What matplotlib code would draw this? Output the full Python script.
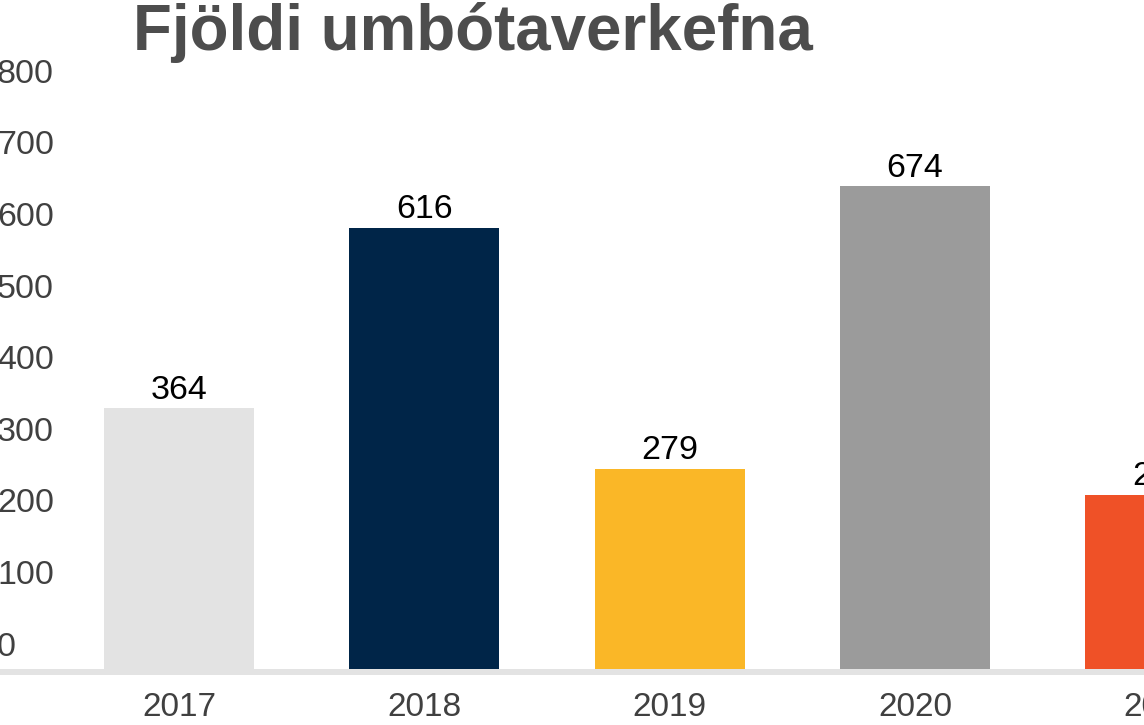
import matplotlib
matplotlib.use("Agg")
import matplotlib.pyplot as plt
from matplotlib.transforms import offset_copy

years = ["2017", "2018", "2019", "2020", "2021"]
counts = [364, 616, 279, 674, 243]
bar_colors = ["#e3e3e3", "#002548", "#fab727", "#9b9b9b", "#ef5127"]
y_ticks = [0, 100, 200, 300, 400, 500, 600, 700, 800]

W, H = 1144, 725
base_px = 669      # baseline, pixels from top
px_per_unit = 0.716
step_px = 245.3
first_px = 179
right_lim = 4.4    # axes run past the right edge of the picture (cropped look)

plt.rcParams['font.family'] = ['Liberation Sans', 'DejaVu Sans']

fig = plt.figure(figsize=(W / 100, H / 100), dpi=100)
left_lim = -first_px / step_px
ax_w = (right_lim - left_lim) * step_px / W
ax = fig.add_axes([0, (H - base_px) / H, ax_w, base_px / H])

x = list(range(len(years)))
bars = ax.bar(x, counts, width=0.612, color=bar_colors, zorder=3)
ax.bar_label(bars, labels=[str(c) for c in counts], padding=2,
             fontsize=24.5, color="black")

for s in ["top", "right", "left"]:
    ax.spines[s].set_visible(False)
ax.spines["bottom"].set_color("#e3e3e3")
ax.spines["bottom"].set_linewidth(4.3)
ax.spines["bottom"].set_position(("outward", 2.5))
ax.spines["bottom"].set_zorder(2)

ax.set_xticks(x, years)
ax.tick_params(axis="x", length=0, pad=14, labelsize=24, labelcolor="#404040")
ax.set_yticks([])

# limits after the ticks so they are not widened
ax.set_ylim(0, base_px / px_per_unit)
ax.set_xlim(left_lim, right_lim)

lab_trans = offset_copy(ax.get_yaxis_transform(), fig=fig, x=-3, y=22, units="dots")
for v in y_ticks:
    ax.text(0, v, str(v), transform=lab_trans, ha="left", va="center",
            fontsize=24.5, color="#404040")

fig.text(133 / W, 1 - 50 / H, "Fjöldi umbótaverkefna", fontsize=45.8,
         fontweight="bold", color="#4d4d4d", ha="left", va="baseline")

fig.savefig("out.png", dpi=100)
